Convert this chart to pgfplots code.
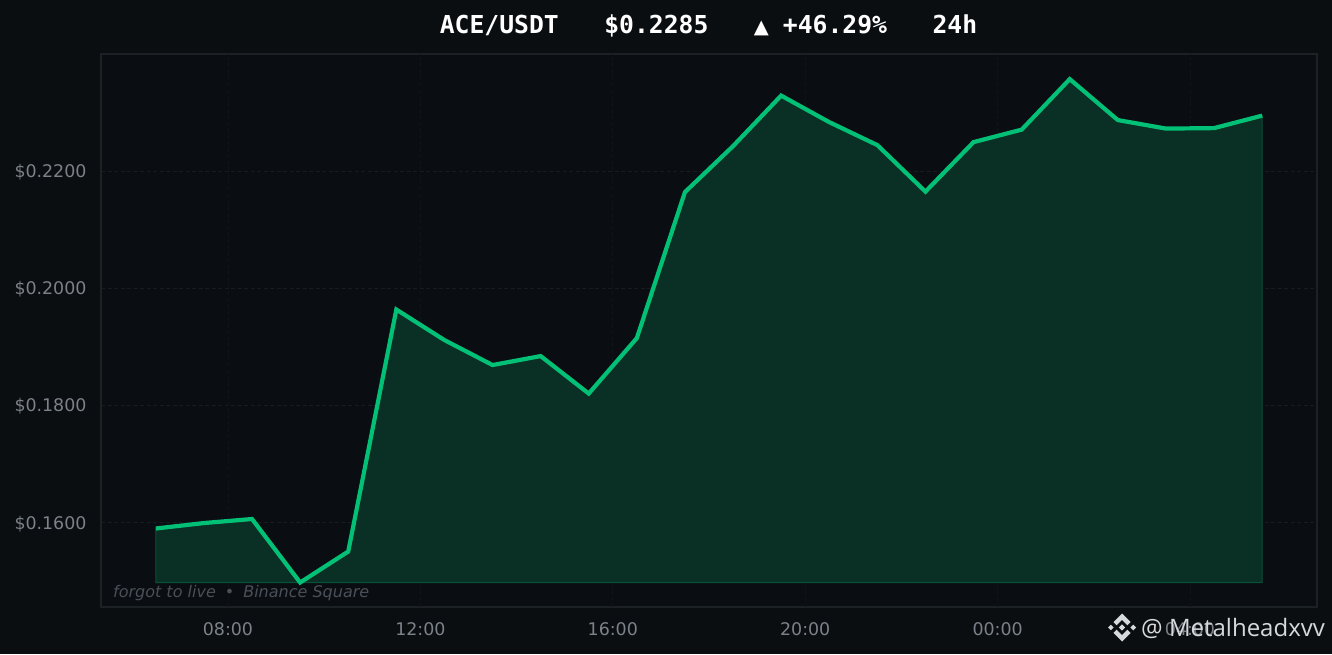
\documentclass[border=0pt]{standalone}
\usepackage{pgfplots}
\pgfplotsset{compat=1.18}
\usepackage{fontspec}
\setmainfont{DejaVu Sans}
\newfontfamily\monob{DejaVu Sans Mono}
\newfontfamily\wm{Open Sans}
\definecolor{bgc}{HTML}{0A0E11}
\definecolor{axbg}{HTML}{0A0E12}
\definecolor{spine}{HTML}{1C2126}
\definecolor{gridc}{HTML}{171C20}
\definecolor{linec}{HTML}{02C076}
\definecolor{fillc}{HTML}{0A2F25}
\definecolor{edgec}{HTML}{0A4F38}
\definecolor{tickc}{HTML}{7C828A}
\definecolor{notec}{HTML}{4A5058}
\definecolor{wmc}{HTML}{D6D8DA}
\pgfplotstableread{
x y
6.5 0.15898
7.5 0.15991
8.5 0.16060
9.5 0.14976
10.5 0.15505
11.5 0.19635
12.5 0.19114
13.5 0.18688
14.5 0.18841
15.5 0.18201
16.5 0.19148
17.5 0.21640
18.5 0.22425
19.5 0.23287
20.5 0.22834
21.5 0.22442
22.5 0.21648
23.5 0.22493
24.5 0.22706
25.5 0.23568
26.5 0.22869
27.5 0.22724
28.5 0.22732
29.5 0.22945
}\pricetable
\begin{document}
\begin{tikzpicture}[x=1pt,y=1pt]
\fill[bgc] (0,0) rectangle (1332,654);
\begin{axis}[
  at={(101pt,47pt)}, anchor=south west,
  width=1216pt, height=553pt, scale only axis,
  xmin=5.36, xmax=30.64, ymin=0.14558, ymax=0.23997,
  axis background/.style={fill=axbg},
  axis line style={draw=spine,line width=1.3pt},
  axis on top=false,
  xtick={8,12,16,20,24,28},
  xticklabels={08:00,12:00,16:00,20:00,00:00,04:00},
  ytick={0.16,0.18,0.20,0.22},
  yticklabels={\$0.1600,\$0.1800,\$0.2000,\$0.2200},
  tick style={draw=none},
  major tick length=0pt,
  xticklabel style={font=\fontsize{17.4}{20}\selectfont,text=tickc,yshift=-12.5pt},
  yticklabel style={font=\fontsize{17.4}{20}\selectfont,text=tickc,xshift=-11pt,yshift=-1.3pt},
  ymajorgrids,
  grid style={draw=gridc,line width=0.8pt,dash pattern=on 4pt off 2.5pt},
  clip=false,
]
% faint vertical gridlines
\addplot[draw=gridc!45!axbg,line width=0.6pt,dash pattern=on 4pt off 2.5pt,forget plot] coordinates {(8,0.14558) (8,0.23997)};
\addplot[draw=gridc!45!axbg,line width=0.6pt,dash pattern=on 4pt off 2.5pt,forget plot] coordinates {(12,0.14558) (12,0.23997)};
\addplot[draw=gridc!45!axbg,line width=0.6pt,dash pattern=on 4pt off 2.5pt,forget plot] coordinates {(16,0.14558) (16,0.23997)};
\addplot[draw=gridc!45!axbg,line width=0.6pt,dash pattern=on 4pt off 2.5pt,forget plot] coordinates {(20,0.14558) (20,0.23997)};
\addplot[draw=gridc!45!axbg,line width=0.6pt,dash pattern=on 4pt off 2.5pt,forget plot] coordinates {(24,0.14558) (24,0.23997)};
\addplot[draw=gridc!45!axbg,line width=0.6pt,dash pattern=on 4pt off 2.5pt,forget plot] coordinates {(28,0.14558) (28,0.23997)};
% area
\addplot[draw=edgec,line width=1.1pt,fill=fillc] coordinates {
(6.5,0.14976) (6.5,0.15898) (7.5,0.15991) (8.5,0.16060) (9.5,0.14976) (10.5,0.15505)
(11.5,0.19635) (12.5,0.19114) (13.5,0.18688) (14.5,0.18841) (15.5,0.18201) (16.5,0.19148)
(17.5,0.21640) (18.5,0.22425) (19.5,0.23287) (20.5,0.22834) (21.5,0.22442) (22.5,0.21648)
(23.5,0.22493) (24.5,0.22706) (25.5,0.23568) (26.5,0.22869) (27.5,0.22724) (28.5,0.22732)
(29.5,0.22945) (29.5,0.14976)} -- cycle;
% line
\addplot[draw=linec,line width=4.2pt,line join=miter] table[x=x,y=y] {\pricetable};
\end{axis}
\node[anchor=center,text=white,font=\monob\bfseries\fontsize{24.7}{28}\selectfont,inner sep=0pt] at (708.5,628.5)
  {ACE/USDT\hspace{45.5pt}\$0.2285\hspace{45.5pt}{\rmfamily\mdseries\fontsize{19.5}{24}\selectfont\char"25B2}\hspace{14pt}+46.29\%\hspace{45.5pt}24h};
\node[anchor=west,text=notec,font=\itshape\fontsize{16}{18}\selectfont,inner sep=0pt] at (113,61.2) {forgot to live\hspace{9pt}•\hspace{9pt}Binance Square};
% Binance-style mark
\begin{scope}[shift={(1122,26.5)}]
  \fill[wmc] (-14,0) -- (-11.2,2.8) -- (-8.4,0) -- (-11.2,-2.8) -- cycle;
  \fill[wmc] (14,0) -- (11.2,2.8) -- (8.4,0) -- (11.2,-2.8) -- cycle;
  \fill[wmc] (0,3.2) -- (3.2,0) -- (0,-3.2) -- (-3.2,0) -- cycle;
  \fill[wmc] (0,14) -- (8.6,5.4) -- (5.4,2.2) -- (0,7.6) -- (-5.4,2.2) -- (-8.6,5.4) -- cycle;
  \fill[wmc] (0,-14) -- (8.6,-5.4) -- (5.4,-2.2) -- (0,-7.6) -- (-5.4,-2.2) -- (-8.6,-5.4) -- cycle;
\end{scope}
\node[anchor=west,text=wmc,font=\wm\fontsize{24}{28}\selectfont,inner sep=0pt] at (1141,26) {@ Metalheadxvv};
\end{tikzpicture}
\end{document}
